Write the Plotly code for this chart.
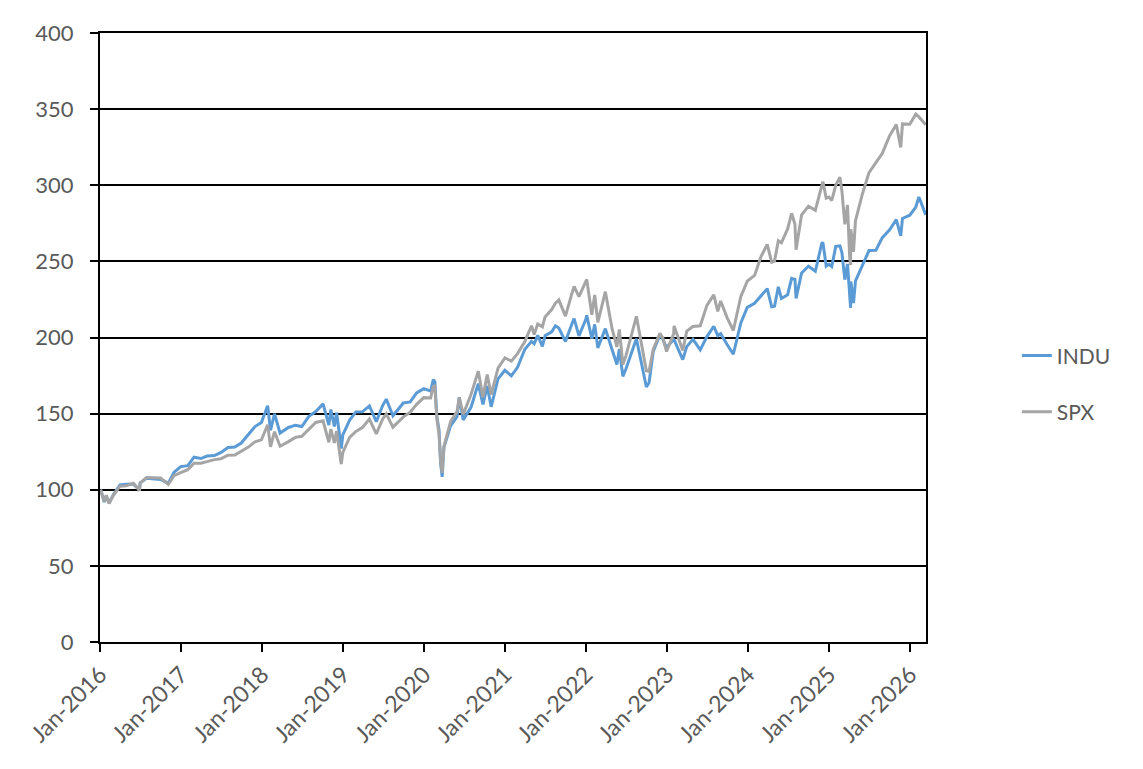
import plotly.graph_objects as go

dates = [
    "2016-01-04", "2016-01-20", "2016-01-29", "2016-02-11", "2016-02-29", "2016-03-31",
    "2016-04-29", "2016-05-31", "2016-06-27", "2016-06-30", "2016-07-29", "2016-08-31",
    "2016-09-30", "2016-11-04", "2016-11-30", "2016-12-30", "2017-01-31", "2017-02-28",
    "2017-03-31", "2017-04-28", "2017-05-31", "2017-06-30", "2017-07-31", "2017-08-31",
    "2017-09-29", "2017-10-31", "2017-11-30", "2017-12-29", "2018-01-26", "2018-02-08",
    "2018-02-26", "2018-03-23", "2018-04-30", "2018-05-31", "2018-06-29", "2018-07-31",
    "2018-08-31", "2018-10-03", "2018-10-29", "2018-11-07", "2018-11-23", "2018-12-03",
    "2018-12-24", "2018-12-31", "2019-01-31", "2019-02-28", "2019-03-29", "2019-04-30",
    "2019-05-31", "2019-06-28", "2019-07-15", "2019-08-14", "2019-09-30", "2019-10-31",
    "2019-11-29", "2019-12-31", "2020-01-31", "2020-02-12", "2020-02-19", "2020-02-28",
    "2020-03-09", "2020-03-16", "2020-03-23", "2020-03-31", "2020-04-30", "2020-05-29",
    "2020-06-08", "2020-06-26", "2020-07-31", "2020-09-02", "2020-09-23", "2020-10-12",
    "2020-10-30", "2020-11-30", "2020-12-31", "2021-01-29", "2021-02-26", "2021-03-31",
    "2021-04-30", "2021-05-12", "2021-05-28", "2021-06-18", "2021-06-30", "2021-07-30",
    "2021-08-16", "2021-08-31", "2021-09-30", "2021-10-29", "2021-11-08", "2021-11-30",
    "2021-12-31", "2022-01-04", "2022-01-27", "2022-02-09", "2022-02-23", "2022-03-29",
    "2022-04-29", "2022-05-20", "2022-05-31", "2022-06-16", "2022-06-30", "2022-07-29",
    "2022-08-16", "2022-09-30", "2022-10-12", "2022-10-31", "2022-11-30", "2022-12-13",
    "2022-12-30", "2023-01-31", "2023-02-02", "2023-03-13", "2023-03-31", "2023-04-28",
    "2023-05-31", "2023-06-30", "2023-07-31", "2023-08-18", "2023-08-31", "2023-09-29",
    "2023-10-27", "2023-11-30", "2023-12-29", "2024-01-31", "2024-02-29", "2024-03-28",
    "2024-04-17", "2024-04-30", "2024-05-17", "2024-05-31", "2024-06-28", "2024-07-16",
    "2024-07-31", "2024-08-05", "2024-08-30", "2024-09-30", "2024-10-31", "2024-11-29",
    "2024-12-04", "2024-12-19", "2024-12-31", "2025-01-13", "2025-01-31", "2025-02-19",
    "2025-02-28", "2025-03-13", "2025-03-25", "2025-04-04", "2025-04-08", "2025-04-09",
    "2025-04-21", "2025-04-30", "2025-05-30", "2025-06-30", "2025-07-31", "2025-08-29",
    "2025-09-30", "2025-10-31", "2025-11-20", "2025-11-28", "2025-12-31", "2026-01-27",
    "2026-02-10", "2026-02-27", "2026-03-13",
]

indu = [
    100.0, 91.9, 96.0, 91.3, 96.3, 103.1,
    103.6, 103.7, 99.9, 104.6, 107.5, 107.3,
    106.8, 104.3, 111.5, 115.2, 115.8, 121.4,
    120.5, 122.1, 122.5, 124.5, 127.7, 128.0,
    130.7, 136.3, 141.5, 144.1, 155.2, 139.1,
    149.9, 137.2, 140.9, 142.4, 141.5, 148.2,
    151.4, 156.4, 142.5, 152.7, 141.6, 150.6,
    127.1, 136.0, 145.8, 151.1, 151.2, 155.1,
    144.7, 155.1, 159.5, 148.6, 157.0, 157.7,
    163.6, 166.4, 164.8, 172.3, 171.1, 148.2,
    139.1, 117.7, 108.4, 127.8, 142.0, 148.0,
    160.8, 145.9, 154.1, 169.7, 156.1, 168.2,
    154.5, 172.8, 178.5, 174.8, 180.4, 192.3,
    197.5, 195.9, 201.4, 194.1, 201.2, 203.7,
    207.7, 206.2, 197.4, 208.9, 212.4, 201.1,
    211.9, 214.6, 199.2, 208.6, 193.2, 205.8,
    192.3, 182.3, 192.4, 174.5, 179.5, 191.5,
    199.2, 167.5, 170.3, 190.9, 201.7, 198.9,
    193.3, 198.8, 198.6, 185.5, 194.0, 198.8,
    191.9, 200.6, 207.4, 201.2, 202.5, 195.4,
    189.0, 209.6, 219.8, 222.5, 227.4, 232.1,
    220.2, 220.5, 233.3, 225.6, 228.1, 238.8,
    238.2, 225.7, 242.4, 246.8, 243.5, 261.9,
    262.5, 246.9, 248.1, 246.6, 259.8, 260.2,
    255.6, 238.0, 248.3, 223.4, 219.5, 236.8,
    222.6, 237.2, 246.5, 257.1, 257.3, 265.6,
    270.6, 277.4, 266.8, 278.2, 280.3, 285.7,
    292.3, 285.6, 280.5,
]

spx = [
    100.0, 92.4, 96.4, 90.9, 96.0, 102.3,
    102.6, 104.2, 99.4, 104.3, 108.0, 107.9,
    107.7, 103.6, 109.2, 111.2, 113.2, 117.4,
    117.4, 118.5, 119.8, 120.4, 122.7, 122.8,
    125.2, 128.0, 131.5, 132.8, 142.7, 128.2,
    138.1, 128.6, 131.6, 134.4, 135.1, 139.9,
    144.2, 145.3, 131.2, 139.8, 130.8, 138.6,
    116.8, 124.6, 134.4, 138.3, 140.8, 146.4,
    136.7, 146.2, 149.8, 141.1, 147.9, 150.9,
    156.1, 160.5, 160.3, 167.9, 168.2, 146.8,
    136.4, 118.5, 111.2, 128.4, 144.7, 151.3,
    160.6, 149.5, 162.5, 177.9, 160.8, 175.6,
    162.5, 179.9, 186.6, 184.5, 189.4, 197.4,
    207.7, 201.9, 208.9, 207.0, 213.5, 218.4,
    222.6, 224.7, 214.0, 228.8, 233.6, 226.9,
    236.8, 238.1, 215.0, 227.9, 210.0, 230.1,
    205.3, 193.8, 205.3, 182.2, 188.1, 205.2,
    213.9, 178.2, 177.7, 192.4, 202.7, 199.7,
    190.8, 202.5, 207.6, 191.5, 204.2, 207.2,
    207.7, 221.1, 228.0, 217.1, 224.0, 213.1,
    204.6, 227.0, 237.0, 240.8, 253.2, 261.1,
    249.5, 250.2, 263.5, 262.2, 271.3, 281.6,
    274.4, 257.7, 280.6, 286.3, 283.5, 299.7,
    302.4, 291.5, 292.2, 290.0, 300.1, 305.3,
    295.9, 274.3, 287.0, 252.1, 247.6, 271.1,
    256.3, 276.7, 293.7, 308.3, 315.0, 321.0,
    332.3, 339.9, 324.9, 340.3, 340.1, 346.7,
    344.9, 341.8, 339.8,
]

series_names = ["INDU", "SPX"]
series_colors = ["#5B9BD5", "#A5A5A5"]
y_ticks = [0, 50, 100, 150, 200, 250, 300, 350, 400]

FONT = "Lato"
TXT = "#595959"

fig = go.Figure()
for name, vals, col in zip(series_names, [indu, spx], series_colors):
    fig.add_trace(go.Scatter(
        x=dates, y=vals, mode="lines", name=name, legendgroup=name,
        line=dict(color=col, width=3),
    ))

fig.update_layout(
    width=1135, height=761,
    margin=dict(l=92, r=217, t=25, b=127),
    paper_bgcolor="white", plot_bgcolor="white",
    font=dict(family=FONT, size=21, color=TXT),
    showlegend=True,
    legend=dict(
        x=1.11, y=0.424, xanchor="left", yanchor="middle",
        font=dict(family=FONT, size=21, color=TXT),
        tracegroupgap=26, bgcolor="rgba(0,0,0,0)",
    ),
)

fig.update_xaxes(
    type="date",
    range=["2016-01-01", "2026-03-14"],
    tick0="2016-01-01", dtick="M12", tickformat="%b-%Y",
    tickangle=-45,
    ticks="outside", ticklen=8, tickwidth=1.5, tickcolor="black",
    showline=True, linecolor="black", linewidth=2, mirror=True,
    showgrid=False, zeroline=False,
    tickfont=dict(family=FONT, size=23, color=TXT),
)
fig.update_yaxes(
    range=[0, 400], tickvals=y_ticks,
    ticks="outside", ticklen=8, tickwidth=1.5, tickcolor="black",
    ticklabelstandoff=12,
    showline=True, linecolor="black", linewidth=2, mirror=True,
    showgrid=True, gridcolor="black", gridwidth=1.5,
    zeroline=False,
    tickfont=dict(family=FONT, size=22, color=TXT),
)

fig.write_html("out.html")
